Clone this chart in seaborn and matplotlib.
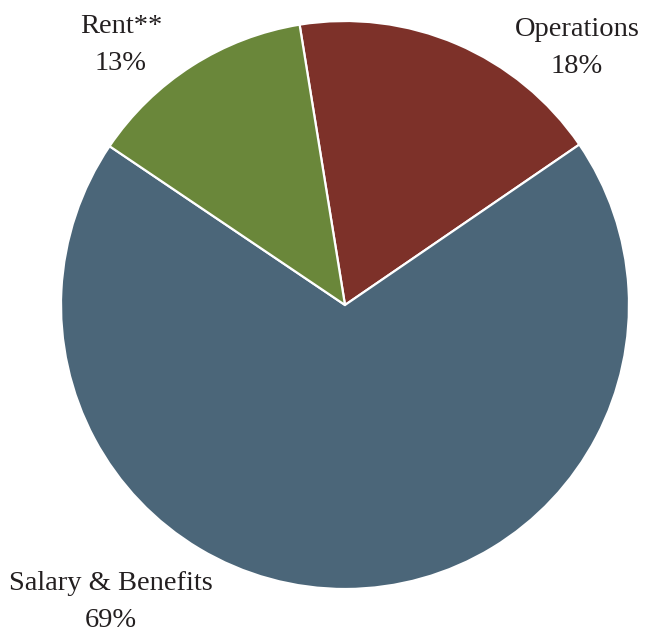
import matplotlib
matplotlib.use("Agg")
import matplotlib.pyplot as plt
import seaborn as sns

categories = ["Operations", "Salary & Benefits", "Rent**"]
shares = [18, 69, 13]
colors = ["#7d3129", "#4b6679", "#6a873a"]

sns.set_theme(style="white")
plt.rcParams["font.family"] = ["Liberation Serif", "DejaVu Serif"]

W, H = 647, 636
fig = plt.figure(figsize=(W / 100, H / 100), dpi=100)
ax = fig.add_axes([0, 0, 1, 1])

cx, cy, r = 345, H - 305, 284
ax.pie(shares, colors=colors, startangle=99.2, counterclock=False,
       center=(cx, cy), radius=r, frame=True,
       wedgeprops=dict(edgecolor="white", linewidth=1.6))
ax.set_xlim(0, W)
ax.set_ylim(0, H)
ax.set_aspect("equal")
ax.axis("off")

label_pos = {"Operations": (577, H - 48), "Salary & Benefits": (111, H - 602), "Rent**": (121, H - 45)}
for cat, val in zip(categories, shares):
    x, y = label_pos[cat]
    ax.text(x, y, f"{cat}\n{val}%", ha="center", va="center", multialignment="center",
            fontsize=20.5, color="#231f20", linespacing=1.6)

fig.savefig("out.png", dpi=100, facecolor="white")
